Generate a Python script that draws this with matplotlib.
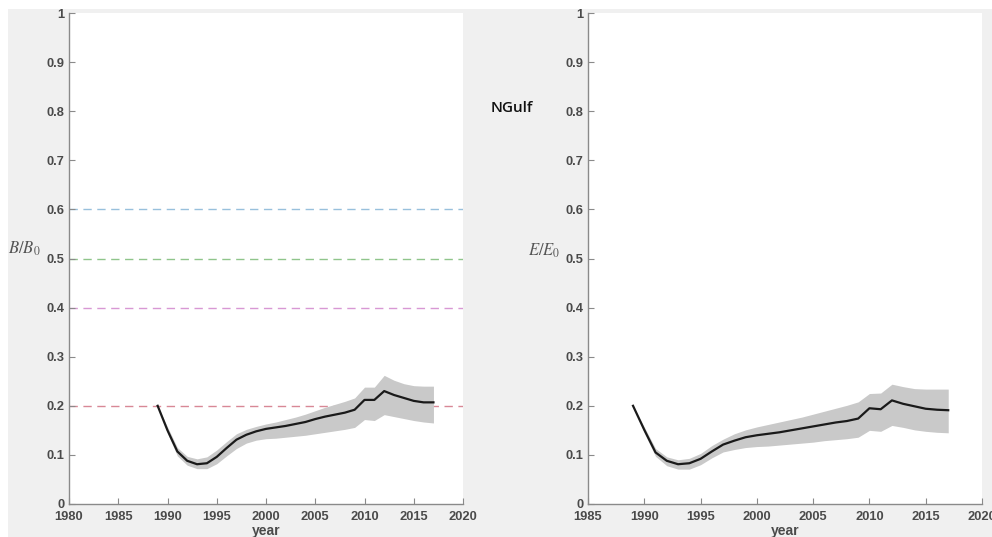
import matplotlib
matplotlib.use("Agg")
import matplotlib.pyplot as plt
from matplotlib.patches import Rectangle

# Model years
years = list(range(1989, 2018))

# Spawning biomass relative to unfished (B/B0): median and uncertainty band
b_med = [0.200, 0.150, 0.107, 0.088, 0.081, 0.083, 0.096, 0.114, 0.131, 0.141,
         0.148, 0.153, 0.156, 0.159, 0.163, 0.167, 0.173, 0.178, 0.182, 0.186,
         0.192, 0.212, 0.212, 0.230, 0.222, 0.216, 0.210, 0.207, 0.207]
b_hi = [0.200, 0.157, 0.115, 0.097, 0.092, 0.096, 0.110, 0.127, 0.143, 0.152,
        0.158, 0.163, 0.167, 0.172, 0.177, 0.183, 0.190, 0.197, 0.203, 0.209,
        0.216, 0.238, 0.238, 0.262, 0.252, 0.245, 0.241, 0.240, 0.240]
b_lo = [0.200, 0.144, 0.098, 0.079, 0.072, 0.072, 0.082, 0.098, 0.113, 0.124,
        0.130, 0.133, 0.134, 0.136, 0.138, 0.140, 0.143, 0.146, 0.149, 0.152,
        0.156, 0.172, 0.170, 0.182, 0.178, 0.174, 0.170, 0.167, 0.165]

# Egg production relative to unfished (E/E0): median and uncertainty band
e_med = [0.200, 0.151, 0.105, 0.088, 0.081, 0.083, 0.092, 0.107, 0.121, 0.129,
         0.136, 0.140, 0.143, 0.146, 0.150, 0.154, 0.158, 0.162, 0.166, 0.169,
         0.174, 0.195, 0.193, 0.211, 0.204, 0.199, 0.194, 0.192, 0.191]
e_hi = [0.200, 0.157, 0.113, 0.096, 0.090, 0.093, 0.103, 0.119, 0.132, 0.143,
        0.151, 0.157, 0.162, 0.167, 0.172, 0.177, 0.183, 0.189, 0.195, 0.201,
        0.208, 0.225, 0.226, 0.244, 0.239, 0.235, 0.234, 0.234, 0.234]
e_lo = [0.200, 0.145, 0.097, 0.078, 0.071, 0.071, 0.080, 0.094, 0.106, 0.111,
        0.115, 0.117, 0.118, 0.120, 0.122, 0.124, 0.126, 0.129, 0.131, 0.133,
        0.136, 0.150, 0.148, 0.160, 0.156, 0.151, 0.148, 0.146, 0.145]

# Reference points drawn as dashed horizontal lines on the biomass panel
ref_levels = [0.6, 0.5, 0.4, 0.2]
ref_colors = ["#98c0dc", "#8fc58b", "#d898d4", "#d88896"]

yticks = [0, 0.1, 0.2, 0.3, 0.4, 0.5, 0.6, 0.7, 0.8, 0.9, 1]
ytick_labels = ["0", "0.1", "0.2", "0.3", "0.4", "0.5", "0.6", "0.7", "0.8", "0.9", "1"]
xticks_left = [1980, 1985, 1990, 1995, 2000, 2005, 2010, 2015, 2020]
xticks_right = [1985, 1990, 1995, 2000, 2005, 2010, 2015, 2020]

plt.rcParams["font.family"] = ["Liberation Sans", "DejaVu Sans"]
plt.rcParams["mathtext.fontset"] = "stix"

W, H = 992, 537
fig = plt.figure(figsize=(W / 100, H / 100), dpi=100, facecolor="white")

# grey figure canvas (white margin at the top and left edges)
fig.patches.append(Rectangle((8 / W, 0), 1 - 8 / W, 1 - 9 / H,
                             transform=fig.transFigure, facecolor="#f0f0f0",
                             edgecolor="none", zorder=-10))

tick_color = "#4a4a4a"
spine_color = "#8a8a8a"


def style_axes(ax, xlim, xticks):
    ax.set_facecolor("white")
    ax.set_xlim(*xlim)
    ax.set_ylim(0, 1)
    ax.set_xticks(xticks)
    ax.set_xticklabels([str(t) for t in xticks])
    ax.set_yticks(yticks)
    ax.set_yticklabels(ytick_labels)
    for s in ["top", "right"]:
        ax.spines[s].set_visible(False)
    for s in ["left", "bottom"]:
        ax.spines[s].set_color(spine_color)
        ax.spines[s].set_linewidth(1.0)
    ax.tick_params(direction="in", length=4, width=0.8, color=spine_color,
                   labelcolor=tick_color, labelsize=9.3)
    ax.tick_params(axis="y", pad=3)
    ax.tick_params(axis="x", pad=5)
    for lbl in ax.get_xticklabels() + ax.get_yticklabels():
        lbl.set_fontweight("bold")
    ax.set_xlabel("year", fontsize=10, color=tick_color, labelpad=1,
                  fontweight="bold")


ax1 = fig.add_axes([69 / W, 1 - 504 / H, 394 / W, 491 / H])
ax2 = fig.add_axes([588 / W, 1 - 504 / H, 394 / W, 491 / H])

# Biomass panel
style_axes(ax1, (1980, 2020), xticks_left)
for lvl, col in zip(ref_levels, ref_colors):
    ax1.axhline(lvl, color=col, lw=1.0, ls=(0, (6, 4)), zorder=1)
ax1.fill_between(years, b_lo, b_hi, color="#c9c9c9", lw=0, zorder=2)
ax1.plot(years, b_med, color="#1a1a1a", lw=1.6, zorder=3)
fig.text(8 / W, 1 - 249 / H, r"$B/B_0$", fontsize=12, color="#555555",
         ha="left", va="center")

# Egg production panel
style_axes(ax2, (1985, 2020), xticks_right)
ax2.fill_between(years, e_lo, e_hi, color="#c9c9c9", lw=0, zorder=2)
ax2.plot(years, e_med, color="#1a1a1a", lw=1.6, zorder=3)
fig.text(528 / W, 1 - 251 / H, r"$E/E_0$", fontsize=12, color="#555555",
         ha="left", va="center")
fig.text(491 / W, 1 - 108 / H, "NGulf", fontsize=11, color="#111111",
         ha="left", va="center", family=["Open Sans", "DejaVu Sans"],
         weight="semibold")

fig.savefig("out.png", dpi=100, facecolor=fig.get_facecolor())
